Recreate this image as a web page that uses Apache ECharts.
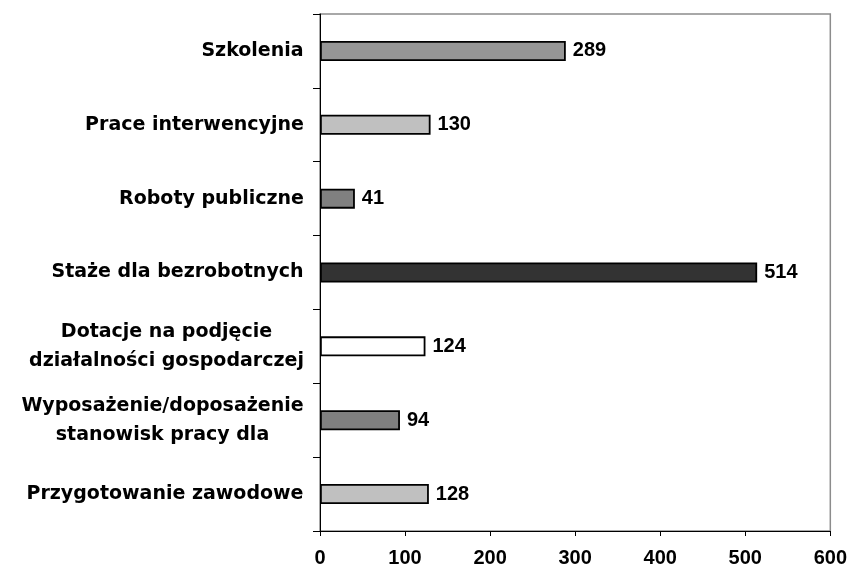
<!DOCTYPE html>
<html>
<head>
<meta charset="utf-8">
<script src="https://cdn.jsdelivr.net/npm/echarts@6/dist/echarts.min.js"></script>
<style>
    html, body { margin: 0; padding: 0; background: #fff; }
    #chart { width: 850px; height: 570px; }
</style>
</head>
<body>
<div id="chart"></div>
<script>
// categories top to bottom
var categories = [
    "Szkolenia",
    "Prace interwencyjne",
    "Roboty publiczne",
    "Staże dla bezrobotnych",
    "Dotacje na podjęcie\ndziałalności gospodarczej",
    "Wyposażenie/doposażenie\nstanowisk pracy dla",
    "Przygotowanie zawodowe"
];
var values = [289, 130, 41, 514, 124, 94, 128];
var xTicks = [0, 100, 200, 300, 400, 500, 600];

var barColors = ["#969696", "#c0c0c0", "#808080", "#333333", "#ffffff", "#808080", "#c0c0c0"];
var catFont = "bold 19px 'DejaVu Sans'";

// measure lines so that two-line labels are centred inside their block
var ctx = document.createElement("canvas").getContext("2d");
ctx.font = catFont;
var richStyles = {};
categories.forEach(function (c, i) {
    var w = 0;
    c.split("\n").forEach(function (line) {
        w = Math.max(w, ctx.measureText(line).width);
    });
    richStyles["l" + i] = {
        width: Math.ceil(w),
        align: "center",
        fontFamily: "DejaVu Sans",
        fontWeight: "bold",
        fontSize: 19,
        color: "#000",
        lineHeight: 29
    };
});

var myChart = echarts.init(document.getElementById("chart"));
var option = {
    animation: false,
    grid: {
        left: 320,
        top: 14,
        right: 18,
        bottom: 39,
        show: true,
        borderColor: "#8c8c8c",
        borderWidth: 1.5
    },
    xAxis: {
        type: "value",
        min: xTicks[0],
        max: xTicks[xTicks.length - 1],
        interval: 100,
        splitLine: { show: false },
        axisLine: { show: true, lineStyle: { color: "#000", width: 1 } },
        axisTick: { show: true, length: 5, lineStyle: { color: "#000" } },
        axisLabel: {
            color: "#000",
            fontFamily: "Liberation Sans",
            fontWeight: "bold",
            fontSize: 20,
            margin: 17
        }
    },
    yAxis: {
        type: "category",
        inverse: true,
        data: categories,
        axisLine: { show: true, lineStyle: { color: "#000", width: 1 } },
        axisTick: { show: true, length: 7, lineStyle: { color: "#000" } },
        axisLabel: {
            margin: 16,
            formatter: function (v) {
                var i = categories.indexOf(v);
                return v.split("\n").map(function (line) {
                    return "{l" + i + "|" + line + "}";
                }).join("\n");
            },
            rich: richStyles
        }
    },
    series: [{
        type: "bar",
        barWidth: 20,
        data: values.map(function (v, i) {
            return { value: v, itemStyle: { color: barColors[i] } };
        }),
        itemStyle: { borderColor: "#000", borderWidth: 1.8 },
        label: {
            show: true,
            position: "right",
            distance: 7,
            color: "#000",
            fontFamily: "Liberation Sans",
            fontWeight: "bold",
            fontSize: 20
        }
    }]
};
myChart.setOption(option);
</script>
</body>
</html>
